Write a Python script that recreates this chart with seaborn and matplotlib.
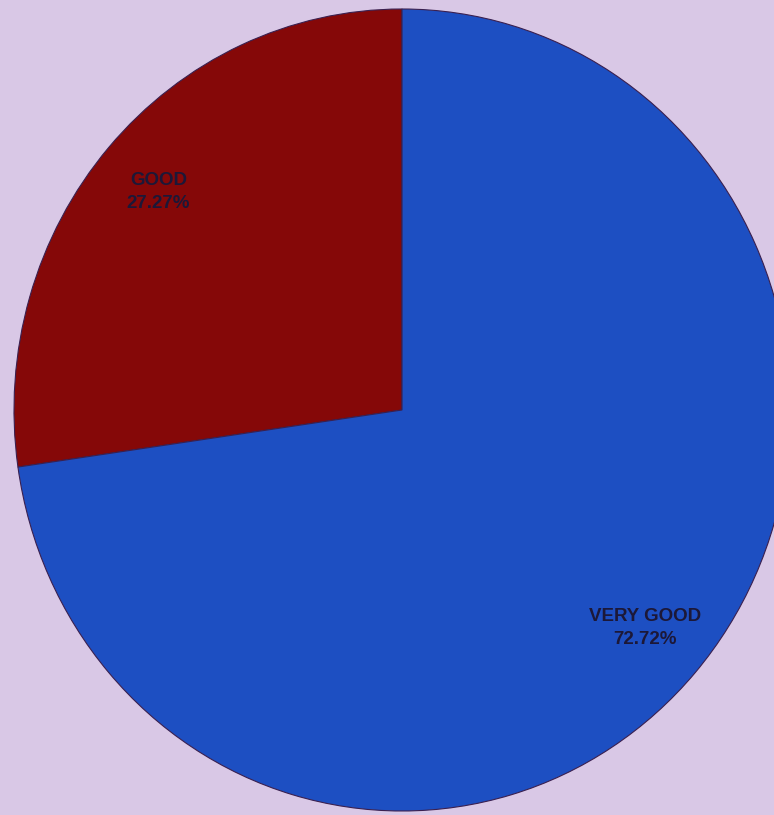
import matplotlib
matplotlib.use("Agg")
import matplotlib.pyplot as plt
import seaborn as sns

# data
categories = ["GOOD", "VERY GOOD"]
shares = [27.27, 72.72]
pct_labels = ["27.27%", "72.72%"]

colors = ["#850808", "#1d4fc2"]
bg = "#d9c8e6"

sns.set_theme(style="white")
plt.rcParams["font.family"] = ["Liberation Sans", "DejaVu Sans"]

fig = plt.figure(figsize=(7.74, 8.15), dpi=100, facecolor=bg)
ax = fig.add_axes([0, 0, 1, 1])
ax.set_facecolor(bg)

labels = [f"{c}\n{p}" for c, p in zip(categories, pct_labels)]
wedges, texts = ax.pie(
    shares,
    labels=labels,
    colors=colors,
    startangle=90,
    counterclock=True,
    labeldistance=0.83,
    wedgeprops=dict(edgecolor="#3a2050", linewidth=0.8),
    textprops=dict(fontsize=13.5, fontweight="bold", color="#1c1838"),
)
for t in texts:
    t.set_horizontalalignment("center")
    t.set_verticalalignment("center")
    t.set_linespacing(1.5)

# the pie was photographed slightly stretched; map data space to pixels
ax.set_aspect("auto")
ax.set_xlim(-402 / 388, (774 - 402) / 388)
ax.set_ylim(-(815 - 410) / 401, 410 / 401)
ax.axis("off")

fig.savefig("out.png", dpi=100, facecolor=bg)
